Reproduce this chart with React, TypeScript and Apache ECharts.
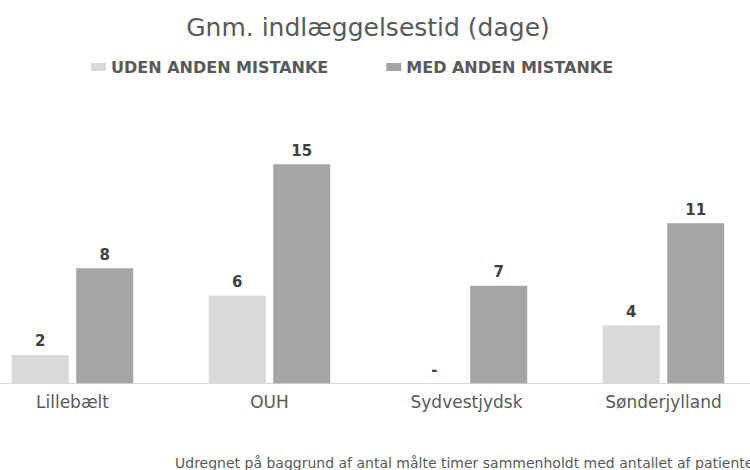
import React, { useEffect, useRef } from "react";
import * as echarts from "echarts";

const categories = ["Lillebælt", "OUH", "Sydvestjydsk", "Sønderjylland"];
const seriesNames = ["UDEN ANDEN MISTANKE", "MED ANDEN MISTANKE"];
const udenValues = [1.94, 6.0, 0, 3.97];
const medValues = [7.88, 15.0, 6.68, 10.96];
const titleText = "Gnm. indlæggelsestid (dage)";
const footnoteText =
  "Udregnet på baggrund af antal målte timer sammenholdt med antallet af patienter";

const FONT = "DejaVu Sans";
const SHIFT = 26; // chart canvas extends past the left edge of the visible frame

export default function App() {
  const ref = useRef<HTMLDivElement>(null);
  useEffect(() => {
    document.body.style.margin = "0";
    if (!ref.current) return;
    const chart = echarts.init(ref.current, null, { renderer: "svg" });
    const labelFmt = (p: any) => (p.value === 0 ? "-" : String(Math.round(p.value)));
    const dataLabel = {
      show: true,
      position: "top",
      distance: 6,
      formatter: labelFmt,
      fontFamily: FONT,
      fontSize: 15,
      fontWeight: "bold",
      color: "#404040",
    };
    chart.setOption({
      animation: false,
      backgroundColor: "#ffffff",
      title: {
        text: titleText,
        left: "center",
        top: 10,
        textStyle: { fontFamily: FONT, fontSize: 25, fontWeight: "normal", color: "#595959" },
      },
      legend: {
        left: SHIFT + 86,
        top: 54,
        itemWidth: 15,
        itemHeight: 8,
        itemGap: 58,
        icon: "rect",
        textStyle: { fontFamily: FONT, fontSize: 16, fontWeight: "bold", color: "#595959" },
        data: seriesNames,
      },
      grid: { left: 0, right: 0, top: 149.7, bottom: 86.7, containLabel: false },
      xAxis: {
        type: "category",
        data: categories,
        axisLine: { lineStyle: { color: "#d9d9d9", width: 1 } },
        axisTick: { show: false },
        axisLabel: { fontFamily: FONT, fontSize: 17, color: "#595959", margin: 10 },
      },
      yAxis: { type: "value", min: 0, max: 16, show: false, splitLine: { show: false } },
      series: [
        {
          name: seriesNames[0],
          type: "bar",
          data: udenValues,
          barWidth: 57,
          barGap: "13%",
          itemStyle: { color: "#d9d9d9" },
          label: dataLabel,
        },
        {
          name: seriesNames[1],
          type: "bar",
          data: medValues,
          barWidth: 57,
          barGap: "13%",
          itemStyle: { color: "#a5a5a5" },
          label: dataLabel,
        },
      ],
      graphic: [
        {
          type: "text",
          left: SHIFT + 175,
          top: 456,
          style: { text: footnoteText, fontFamily: FONT, fontSize: 14, fill: "#595959" },
        },
      ],
    });
    return () => chart.dispose();
  }, []);
  return (
    <div style={{ position: "relative", width: 750, height: 470, overflow: "hidden" }}>
      <div
        ref={ref}
        style={{ position: "absolute", left: -SHIFT, top: 0, width: 788, height: 470 }}
      />
    </div>
  );
}
